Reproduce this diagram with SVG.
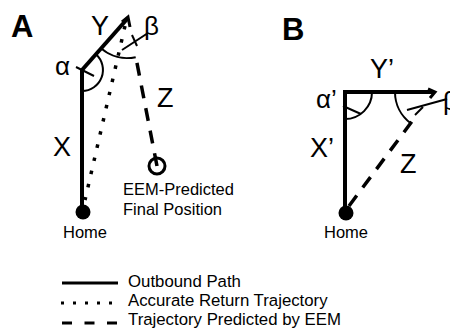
<svg xmlns="http://www.w3.org/2000/svg" width="450" height="330" viewBox="0 0 450 330">
  <style>
    .bg { fill: #ffffff; }
    .path { fill: none; stroke: #000; stroke-width: 4; stroke-linecap: butt; }
    .head { fill: none; stroke: #000; stroke-width: 3; stroke-linejoin: miter; }
    .dots { fill: none; stroke: #000; stroke-width: 3.5; stroke-dasharray: 3.5 10; }
    .dash { fill: none; stroke: #000; stroke-width: 3.5; stroke-dasharray: 13 10; }
    .arc { fill: none; stroke: #000; stroke-width: 2; }
    .tick { fill: none; stroke: #000; stroke-width: 2; }
    .home { fill: #000; }
    .goal { fill: none; stroke: #000; stroke-width: 3; }
    text { font-family: "Liberation Sans", Arial, sans-serif; fill: #000; }
    .panel { font-size: 31px; font-weight: bold; }
    .seg { font-size: 27px; }
    .ang { font-size: 26px; }
    .lbl { font-size: 16.5px; }
    .leg { font-size: 16.8px; }
  </style>
  <rect class="bg" x="0" y="0" width="450" height="330"/>

  <!-- Panel A -->
  <g id="panelA">
    <text class="panel" x="11" y="37">A</text>
    <g id="connectorsA">
      <!-- outbound legs X and Y -->
      <line class="path" x1="82" y1="210" x2="82" y2="70"/>
      <line class="path" x1="82" y1="70" x2="128" y2="18"/>
      <polyline class="head" points="122,22 128,17 130,27"/>
      <!-- accurate homing vector -->
      <line class="dots" x1="125" y1="26" x2="85" y2="200"/>
      <!-- EEM predicted leg Z, drawn from the final position upward -->
      <line class="dash" x1="157" y1="166" x2="136" y2="58"/>
      <!-- turn angles -->
      <path class="arc" d="M 82 91 A 21 21 0 0 0 95.9 54.3"/>
      <path class="arc" d="M 101 48.3 A 40 40 0 0 0 135.7 57.2"/>
      <line class="tick" x1="76" y1="67" x2="94" y2="76"/>
      <line class="tick" x1="122" y1="50" x2="148" y2="33"/>
      <line class="tick" x1="132" y1="35" x2="137" y2="46"/>
    </g>
    <g id="homeA">
      <circle class="home" cx="83" cy="212" r="7.5"/>
      <text class="lbl" x="85" y="238" text-anchor="middle">Home</text>
    </g>
    <g id="finalA">
      <circle class="goal" cx="157" cy="166" r="8"/>
      <text class="lbl" x="123" y="195">EEM-Predicted</text>
      <text class="lbl" x="123" y="215">Final Position</text>
    </g>
    <text class="seg" x="53" y="156">X</text>
    <text class="seg" x="91" y="35">Y</text>
    <text class="seg" x="157" y="107">Z</text>
    <text class="ang" x="55" y="75">α</text>
    <text class="ang" x="144" y="35">β</text>
  </g>

  <!-- Panel B -->
  <g id="panelB">
    <text class="panel" x="282" y="40">B</text>
    <g id="connectorsB">
      <line class="path" x1="345" y1="210" x2="345" y2="92"/>
      <line class="path" x1="343" y1="92" x2="434" y2="92"/>
      <polyline class="head" points="428,89 435,92 430,98"/>
      <line class="dash" x1="349" y1="206" x2="413" y2="120"/>
      <path class="arc" d="M 345 119 A 27 27 0 0 0 372 92"/>
      <path class="arc" d="M 395 92 A 39 39 0 0 0 410.9 123.4"/>
      <line class="tick" x1="343" y1="106" x2="361" y2="114"/>
      <line class="tick" x1="407" y1="110" x2="447" y2="99"/>
      <line class="tick" x1="415" y1="115" x2="423" y2="107"/>
    </g>
    <g id="homeB">
      <circle class="home" cx="346" cy="213" r="7.5"/>
      <text class="lbl" x="346" y="238" text-anchor="middle">Home</text>
    </g>
    <text class="seg" x="310" y="157">X’</text>
    <text class="seg" x="370" y="78">Y’</text>
    <text class="seg" x="400" y="173">Z</text>
    <text class="ang" x="316" y="108">α’</text>
    <text class="ang" x="443" y="110">β</text>
  </g>

  <!-- Legend -->
  <g id="legend">
    <line class="path" x1="62" y1="283" x2="118" y2="283" style="stroke-width:3"/>
    <line class="dots" x1="61" y1="303" x2="118" y2="303" style="stroke-width:3;stroke-dasharray:3 9"/>
    <line class="dash" x1="62" y1="323" x2="118" y2="323" style="stroke-width:3;stroke-dasharray:10 12.5"/>
    <text class="leg" x="128" y="287">Outbound Path</text>
    <text class="leg" x="128" y="306">Accurate Return Trajectory</text>
    <text class="leg" x="128" y="325">Trajectory Predicted by EEM</text>
  </g>
</svg>
